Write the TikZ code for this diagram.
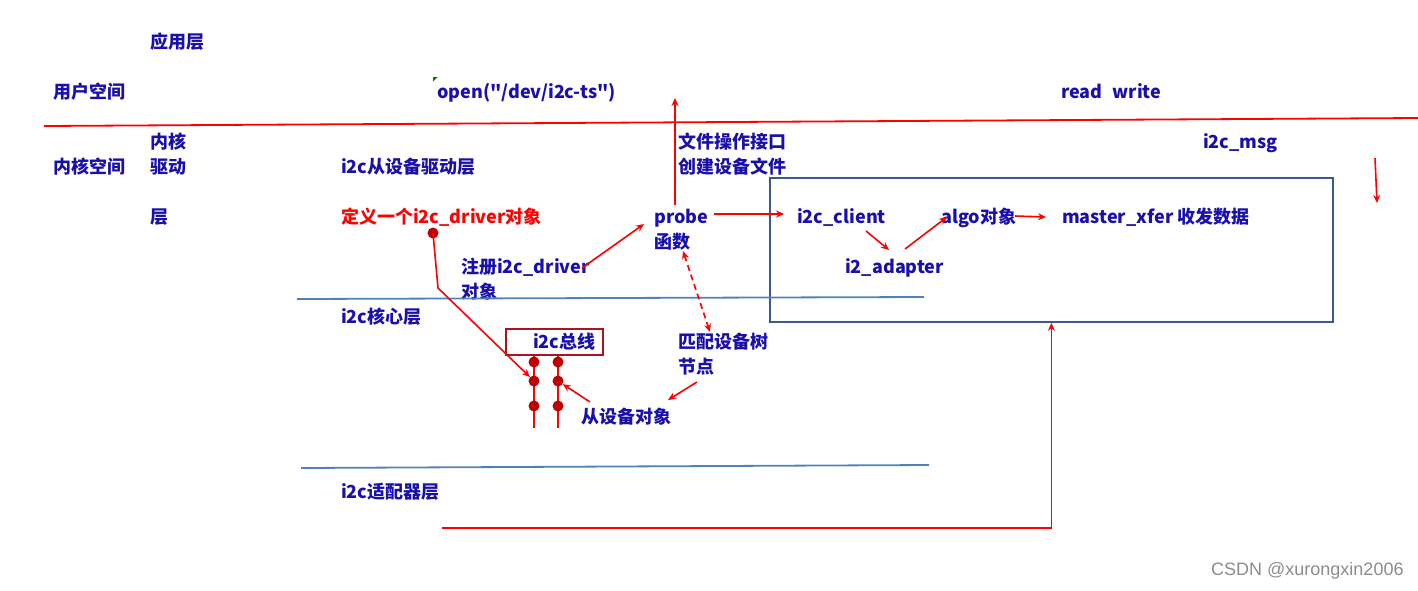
\documentclass[tikz,border=0pt]{standalone}
\usepackage{fontspec}
\newfontfamily\cjkfont{Noto Sans CJK SC}
\newfontfamily\wmfont{Liberation Sans}
\usetikzlibrary{arrows.meta}
\definecolor{tblue}{RGB}{25,15,170}
\definecolor{dotred}{RGB}{192,0,0}
\definecolor{boxred}{RGB}{170,20,30}
\definecolor{layerblue}{RGB}{79,129,189}
\definecolor{boxblue}{RGB}{59,90,140}
\definecolor{mkgreen}{RGB}{0,128,0}
\tikzset{
  lbl/.style={anchor=west, inner sep=0pt, text height=16pt, text depth=2pt,
    font=\cjkfont\fontsize{18}{20}\selectfont\bfseries, text=tblue},
  rlbl/.style={lbl, text=red},
  arr/.style={draw=red, line width=1.6pt, -{Stealth[length=8pt,width=7pt]}},
  darr/.style={draw=red, line width=1.6pt, dash pattern=on 6pt off 4pt,
    {Stealth[length=8pt,width=7pt]}-{Stealth[length=8pt,width=7pt]}},
  rline/.style={draw=red, line width=1.8pt},
  bline/.style={draw=layerblue, line width=1.8pt},
  dot/.style={circle, fill=dotred, inner sep=0pt, minimum size=11pt},
}
\begin{document}
\begin{tikzpicture}[x=1pt,y=-1pt]
\useasboundingbox (0,0) rectangle (1418,590);

% kernel big box
\node[draw=boxblue, line width=1.8pt, minimum width=563pt, minimum height=144pt,
  anchor=north west, inner sep=0pt] (kbox) at (769,177) {};

% user space
\node[lbl] (app) at (150,41) {应用层};
\node[lbl] (user) at (53,91) {用户空间};
\node[lbl] (open) at (437,91) {open("/dev/i2c-ts")};
\node[lbl] (rw) at (1061,91) {read\hspace{10pt}write};
\fill[mkgreen] (433,77) -- (437.5,77) -- (433,81.5) -- cycle;

% user/kernel boundary
\coordinate (ul) at (44,126);
\coordinate (ur) at (1418,118);
\draw[rline] (ul) -- (ur);

% kernel labels
\node[lbl] (nh) at (150,141) {内核};
\node[lbl] (kspace) at (53,166) {内核空间};
\node[lbl] (qd) at (150,166) {驱动};
\node[lbl] (ceng) at (150,216) {层};
\node[lbl] (slave) at (341,166) {i2c从设备驱动层};
\node[rlbl] (def) at (341,216) {定义一个i2c\_driver对象};
\node[lbl] (fops) at (678,141) {文件操作接口};
\node[lbl] (mkdev) at (678,166) {创建设备文件};
\node[lbl] (msg) at (1203,141) {i2c\_msg};
\node[lbl] (probe) at (654,216) {probe};
\node[lbl] (func) at (654,241) {函数};
\node[lbl] (client) at (797,216) {i2c\_client};
\node[lbl] (algo) at (941,216) {algo对象};
\node[lbl] (xfer) at (1062,216) {master\_xfer 收发数据};
\node[lbl] (adap) at (845,266) {i2\_adapter};
\node[lbl] (reg) at (461,266) {注册i2c\_driver};
\node[lbl] (regobj) at (461,291) {对象};
\node[lbl] (core) at (341,316) {i2c核心层};
\node[lbl] (match) at (678,341) {匹配设备树};
\node[lbl] (dtnode) at (678,366) {节点};
\node[lbl] (sobj) at (581,416) {从设备对象};
\node[lbl] (adl) at (341,491) {i2c适配器层};

% layer lines
\coordinate (l1a) at (297,299); \coordinate (l1b) at (924,297);
\coordinate (l2a) at (301,468); \coordinate (l2b) at (929,465);
\draw[bline] (l1a) -- (l1b);
\draw[bline] (l2a) -- (l2b);

% i2c bus
\node[draw=boxred, line width=1.8pt, minimum width=97pt, minimum height=26pt,
  anchor=north west, inner sep=0pt] (bus) at (505,328) {};
\node[lbl] (busl) at (533,341) {i2c总线};
\coordinate (b1b) at (534,428); \coordinate (b2b) at (558,428);
\draw[rline] (bus.south -| b1b) -- (b1b);
\draw[rline] (bus.south -| b2b) -- (b2b);
\node[dot] (d11) at (534,362) {};
\node[dot] (d12) at (534,381) {};
\node[dot] (d13) at (534,406) {};
\node[dot] (d21) at (558,362) {};
\node[dot] (d22) at (558,381) {};
\node[dot] (d23) at (558,406) {};

% driver -> bus
\node[dot] (ddot) at (433,233) {};
\coordinate (dbend) at (438,288);
\draw[arr] (ddot.center) -- (dbend) -- (d12);

% register -> probe
\coordinate (regs) at (582,268); \coordinate (probein) at (644,224);
\draw[arr] (regs) -- (probein);

% probe -> file ops (up)
\coordinate (pup0) at (675,205); \coordinate (pup1) at (675,98);
\draw[arr] (pup0) -- (pup1);

% probe -> client
\coordinate (pc0) at (714,214); \coordinate (pc1) at (784,214);
\draw[arr] (pc0) -- (pc1);

% dashed match
\coordinate (m0) at (683,251); \coordinate (m1) at (710,332);
\draw[darr] (m0) -- (m1);

% node -> slave objects
\coordinate (n0) at (697,382); \coordinate (n1) at (668,400);
\draw[arr] (n0) -- (n1);
\coordinate (s0) at (590,402);
\draw[arr] (s0) -- (d22);

% inside kernel box
\coordinate (c0) at (866,231); \coordinate (c1) at (889,250);
\draw[arr] (c0) -- (c1);
\coordinate (a0) at (905,249); \coordinate (a1) at (947,217);
\draw[arr] (a0) -- (a1);
\coordinate (x0) at (1015,216); \coordinate (x1) at (1046,217);
\draw[arr] (x0) -- (x1);

% i2c_msg down
\coordinate (g0) at (1375,158); \coordinate (g1) at (1377,203);
\draw[arr] (g0) -- (g1);

% adapter -> kernel box
\coordinate (bot0) at (442,528);
\draw[draw=red, line width=1.8pt, -{Stealth[length=8pt,width=7pt]}] (bot0) -| (kbox.south);

% watermark
\node[anchor=west, inner sep=0pt, text=black!45, font=\wmfont\fontsize{18}{20}\selectfont] (wm) at (1211,571) {CSDN @xurongxin2006};
\end{tikzpicture}
\end{document}
